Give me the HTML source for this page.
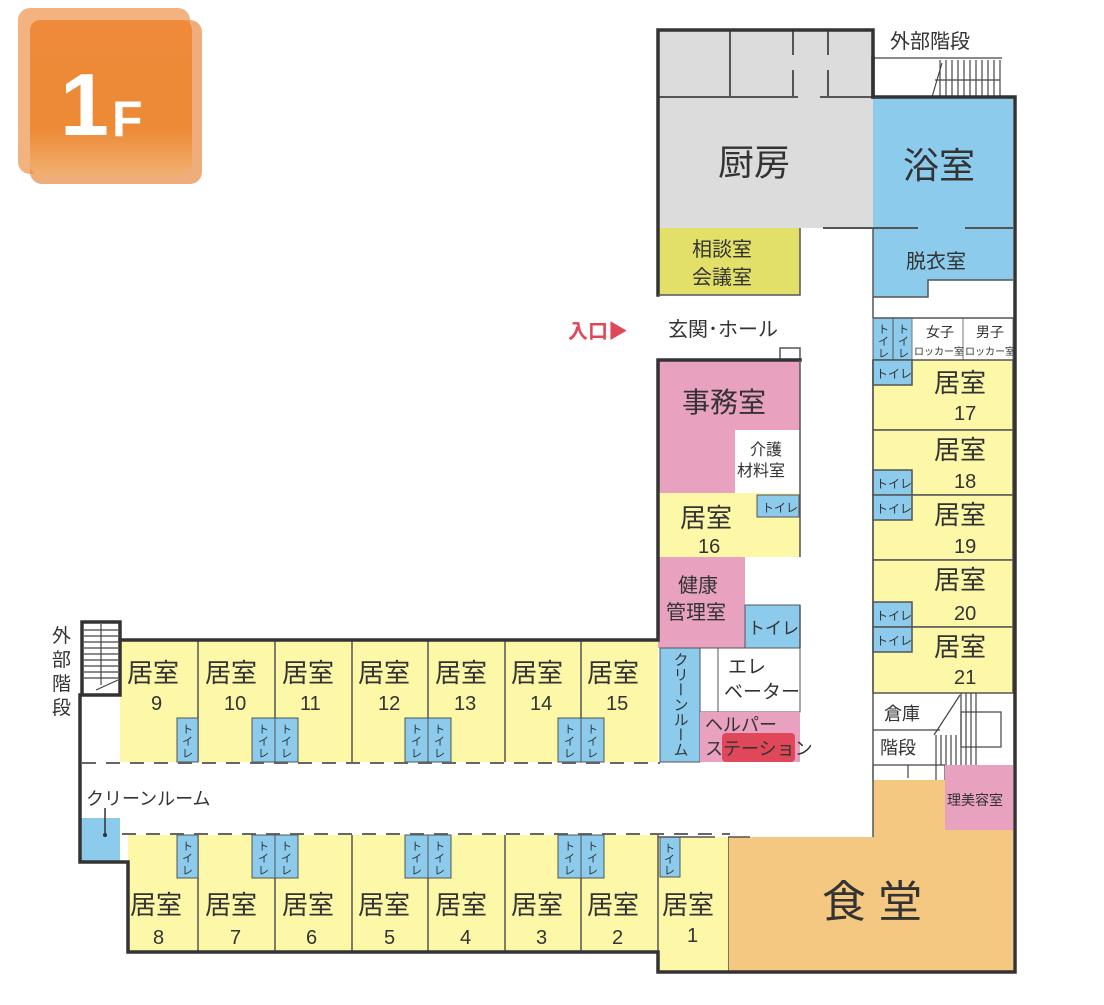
<!DOCTYPE html>
<html><head><meta charset="utf-8"><style>
body{margin:0;background:#fff;width:1104px;height:1000px;overflow:hidden}
svg text{font-family:"Liberation Sans","Noto Sans CJK JP",sans-serif;fill:#333}
</style></head><body>
<svg width="1104" height="1000" viewBox="0 0 1104 1000" xmlns="http://www.w3.org/2000/svg">
<defs><linearGradient id="og" x1="0" y1="0" x2="0" y2="1"><stop offset="0" stop-color="#ee8a3a"/><stop offset="0.7" stop-color="#ec8a36"/><stop offset="1" stop-color="#f2b070"/></linearGradient></defs>
<!-- badge -->
<rect x="18" y="8" width="172" height="166" rx="12" fill="#f0a060" opacity="0.8"/>
<rect x="30" y="20" width="172" height="164" rx="12" fill="#e98a45" opacity="0.7"/>
<rect x="30" y="20" width="162" height="155" rx="10" fill="url(#og)"/>
<text x="60" y="135" style="font-size:88px;font-weight:bold;fill:#fff">1</text>
<text x="112" y="136" style="font-size:50px;font-weight:bold;fill:#fff">F</text>

<!-- kitchen -->
<rect x="658" y="30" width="215" height="198" fill="#dcdcdc"/>
<g stroke="#555" stroke-width="2">
<line x1="658" y1="97" x2="798" y2="97"/><line x1="820" y1="97" x2="873" y2="97"/>
<line x1="730" y1="30" x2="730" y2="97"/><line x1="793" y1="30" x2="793" y2="55"/><line x1="793" y1="70" x2="793" y2="97"/>
<line x1="828" y1="30" x2="828" y2="55"/><line x1="828" y1="70" x2="828" y2="97"/>
</g>
<text x="718" y="175" style="font-size:36px">厨房</text>
<!-- bath -->
<rect x="873" y="97" width="140" height="131" fill="#8ccbec"/>
<path d="M873 228 H1013 V280 H928 V297 H873 Z" fill="#8ccbec"/>
<g stroke="#555" stroke-width="2"><line x1="873" y1="228" x2="918" y2="228"/><line x1="965" y1="228" x2="1013" y2="228"/><line x1="823" y1="228" x2="873" y2="228"/></g>
<text x="903" y="178" style="font-size:36px">浴室</text>
<text x="906" y="268" style="font-size:20px">脱衣室</text>
<!-- ext stair top -->
<text x="890" y="48" style="font-size:20px">外部階段</text>
<g stroke="#444" stroke-width="1.2">
<line x1="873" y1="58" x2="1002" y2="58"/>
<line x1="940" y1="60" x2="940" y2="97"/><line x1="946" y1="60" x2="946" y2="97"/><line x1="952" y1="60" x2="952" y2="97"/><line x1="958" y1="60" x2="958" y2="97"/><line x1="964" y1="60" x2="964" y2="97"/><line x1="970" y1="60" x2="970" y2="97"/><line x1="976" y1="60" x2="976" y2="97"/><line x1="982" y1="60" x2="982" y2="97"/><line x1="988" y1="60" x2="988" y2="97"/><line x1="994" y1="60" x2="994" y2="97"/><line x1="1000" y1="60" x2="1000" y2="97"/>
<line x1="935" y1="80" x2="1000" y2="80"/><line x1="932" y1="97" x2="942" y2="63"/>
</g>
<!-- 相談室 -->
<rect x="658" y="228" width="142" height="67" fill="#e3e06a"/>
<text x="692" y="256" style="font-size:20px">相談室</text>
<text x="692" y="284" style="font-size:20px">会議室</text>
<!-- entrance -->
<text x="568" y="338" style="font-size:20px;font-weight:bold;fill:#e0485a">入口▶</text>
<text x="668" y="336" style="font-size:20px">玄関･ホール</text>
<rect x="780" y="348" width="20" height="12" fill="#fff" stroke="#555" stroke-width="1.5"/>
<!-- 事務室 -->
<rect x="658" y="360" width="142" height="133" fill="#e8a2c0"/>
<rect x="735" y="430" width="65" height="63" fill="#fff"/>
<text x="682" y="412" style="font-size:28px">事務室</text>
<text x="750" y="455" style="font-size:16px">介護</text>
<text x="737" y="476" style="font-size:16px">材料室</text>
<!-- 16 -->
<rect x="658" y="493" width="142" height="64" fill="#fdf7a8"/>
<rect x="757" y="495" width="42" height="22" fill="#8ccbec" stroke="#555"/>
<text x="762" y="512" style="font-size:12px">トイレ</text>
<text x="680" y="527" style="font-size:26px">居室</text>
<text x="698" y="553" style="font-size:20px">16</text>
<!-- 健康 -->
<rect x="658" y="557" width="87" height="91" fill="#e8a2c0"/>
<rect x="745" y="605" width="55" height="43" fill="#8ccbec" stroke="#555"/>
<text x="678" y="592" style="font-size:20px">健康</text>
<text x="666" y="619" style="font-size:20px">管理室</text>
<text x="748" y="634" style="font-size:17px">トイレ</text>
<!-- cleanroom vertical -->
<rect x="660" y="648" width="40" height="114" fill="#8ccbec" stroke="#555"/>
<text x="680" y="652" style="font-size:15px;writing-mode:vertical-rl">クリーンルーム</text>
<rect x="700" y="648" width="18" height="64" fill="#fff" stroke="#555"/>
<rect x="718" y="648" width="82" height="64" fill="#fff" stroke="#555"/>
<text x="728" y="673" style="font-size:19px">エレ</text>
<text x="724" y="698" style="font-size:19px">ベーター</text>
<rect x="700" y="712" width="100" height="50" fill="#e8a2c0"/>
<rect x="722" y="733" width="73" height="29" rx="4" fill="#e0485a"/>
<text x="705" y="731" style="font-size:18px">ヘルパー</text>
<text x="705" y="755" style="font-size:18px">ステーション</text>

<!-- right column -->
<rect x="873" y="318" width="20" height="42" fill="#8ccbec" stroke="#555"/>
<rect x="893" y="318" width="19" height="42" fill="#8ccbec" stroke="#555"/>
<text x="878" y="333" style="font-size:11px">ト</text><text x="878" y="345" style="font-size:11px">イ</text><text x="878" y="357" style="font-size:11px">レ</text>
<text x="898" y="333" style="font-size:11px">ト</text><text x="898" y="345" style="font-size:11px">イ</text><text x="898" y="357" style="font-size:11px">レ</text>
<rect x="912" y="318" width="51" height="42" fill="#fff" stroke="#777"/>
<rect x="963" y="318" width="50" height="42" fill="#fff" stroke="#777"/>
<text x="926" y="337" style="font-size:14px">女子</text><text x="914" y="355" style="font-size:10px">ロッカー室</text>
<text x="976" y="337" style="font-size:14px">男子</text><text x="965" y="355" style="font-size:10px">ロッカー室</text>
<g stroke="#555" stroke-width="1.5">
<rect x="873" y="360" width="140" height="70" fill="#fdf7a8"/>
<rect x="873" y="430" width="140" height="65" fill="#fdf7a8"/>
<rect x="873" y="495" width="140" height="65" fill="#fdf7a8"/>
<rect x="873" y="560" width="140" height="67" fill="#fdf7a8"/>
<rect x="873" y="627" width="140" height="66" fill="#fdf7a8"/>
<rect x="873" y="360" width="39" height="25" fill="#8ccbec"/>
<rect x="873" y="470" width="39" height="25" fill="#8ccbec"/>
<rect x="873" y="495" width="39" height="25" fill="#8ccbec"/>
<rect x="873" y="602" width="39" height="25" fill="#8ccbec"/>
<rect x="873" y="627" width="39" height="25" fill="#8ccbec"/>
</g>
<g style="font-size:12px"><text x="876" y="378">トイレ</text><text x="876" y="488">トイレ</text><text x="876" y="513">トイレ</text><text x="876" y="620">トイレ</text><text x="876" y="645">トイレ</text></g>
<g style="font-size:26px"><text x="934" y="392">居室</text><text x="934" y="459">居室</text><text x="934" y="524">居室</text><text x="934" y="589">居室</text><text x="934" y="656">居室</text></g>
<g style="font-size:20px"><text x="954" y="420">17</text><text x="954" y="488">18</text><text x="954" y="553">19</text><text x="954" y="620">20</text><text x="954" y="684">21</text></g>
<!-- storage & stairs -->
<text x="884" y="720" style="font-size:18px">倉庫</text>
<text x="880" y="754" style="font-size:18px">階段</text>
<g stroke="#444" stroke-width="1.2" fill="none">
<line x1="873" y1="730" x2="940" y2="730"/>
<line x1="936" y1="735" x2="936" y2="765"/><line x1="941" y1="735" x2="941" y2="765"/><line x1="946" y1="735" x2="946" y2="765"/><line x1="951" y1="735" x2="951" y2="765"/><line x1="956" y1="735" x2="956" y2="765"/>
<line x1="961" y1="693" x2="961" y2="765"/><line x1="966" y1="693" x2="966" y2="765"/><line x1="971" y1="693" x2="971" y2="765"/><line x1="976" y1="693" x2="976" y2="765"/>
<rect x="961" y="712" width="40" height="35"/>
<line x1="934" y1="735" x2="960" y2="695"/>
<path d="M873 765 V780 M873 765 H945 M908 765 V778 M936 765 V780 M945 765 V780"/>
</g>
<!-- 理美容 -->
<rect x="945" y="765" width="68" height="65" fill="#e8a2c0"/>
<text x="947" y="805" style="font-size:14px">理美容室</text>
<!-- dining -->
<path d="M873 780 H945 V830 H1013 V972 H728 V837 H873 Z" fill="#f5c881"/>
<line x1="728" y1="837" x2="728" y2="972" stroke="#555" stroke-width="1.5"/>
<line x1="728" y1="837" x2="750" y2="837" stroke="#555" stroke-width="1.5"/>
<text x="822" y="917" style="font-size:44px">食 堂</text>
<!-- room 1 -->
<rect x="658" y="837" width="70" height="135" fill="#fdf7a8"/>
<rect x="660" y="837" width="20" height="40" fill="#8ccbec" stroke="#555"/>
<text x="664" y="852" style="font-size:11px">ト</text><text x="664" y="863" style="font-size:11px">イ</text><text x="664" y="874" style="font-size:11px">レ</text>
<text x="662" y="914" style="font-size:26px">居室</text>
<text x="687" y="942" style="font-size:20px">1</text>
<line x1="645" y1="837" x2="715" y2="837" stroke="#555" stroke-width="1.5"/>

<!-- west wing -->
<rect x="120" y="640" width="538" height="122" fill="#fdf7a8"/>
<rect x="128" y="835" width="530" height="117" fill="#fdf7a8"/>
<g stroke="#555" stroke-width="1.5">
<line x1="198" y1="640" x2="198" y2="762"/><line x1="275" y1="640" x2="275" y2="762"/><line x1="352" y1="640" x2="352" y2="762"/><line x1="428" y1="640" x2="428" y2="762"/><line x1="505" y1="640" x2="505" y2="762"/><line x1="581" y1="640" x2="581" y2="762"/>
<line x1="198" y1="835" x2="198" y2="952"/><line x1="275" y1="835" x2="275" y2="952"/><line x1="352" y1="835" x2="352" y2="952"/><line x1="428" y1="835" x2="428" y2="952"/><line x1="505" y1="835" x2="505" y2="952"/><line x1="581" y1="835" x2="581" y2="952"/><line x1="658" y1="835" x2="658" y2="972"/>
</g>
<g stroke="#666" stroke-width="2" stroke-dasharray="14 10">
<line x1="82" y1="763" x2="660" y2="763"/><line x1="122" y1="834" x2="730" y2="834"/>
</g>
<g fill="#8ccbec" stroke="#555">
<rect x="177" y="718" width="21" height="44"/><rect x="252" y="718" width="23" height="44"/><rect x="275" y="718" width="23" height="44"/>
<rect x="405" y="718" width="23" height="44"/><rect x="428" y="718" width="23" height="44"/><rect x="558" y="718" width="23" height="44"/><rect x="581" y="718" width="23" height="44"/>
<rect x="177" y="835" width="21" height="43"/><rect x="252" y="835" width="23" height="43"/><rect x="275" y="835" width="23" height="43"/>
<rect x="405" y="835" width="23" height="43"/><rect x="428" y="835" width="23" height="43"/><rect x="558" y="835" width="23" height="43"/><rect x="581" y="835" width="23" height="43"/>
</g>
<g style="font-size:11px">
<text x="182" y="733">ト</text><text x="182" y="745">イ</text><text x="182" y="757">レ</text>
<text x="258" y="733">ト</text><text x="258" y="745">イ</text><text x="258" y="757">レ</text>
<text x="281" y="733">ト</text><text x="281" y="745">イ</text><text x="281" y="757">レ</text>
<text x="411" y="733">ト</text><text x="411" y="745">イ</text><text x="411" y="757">レ</text>
<text x="434" y="733">ト</text><text x="434" y="745">イ</text><text x="434" y="757">レ</text>
<text x="564" y="733">ト</text><text x="564" y="745">イ</text><text x="564" y="757">レ</text>
<text x="587" y="733">ト</text><text x="587" y="745">イ</text><text x="587" y="757">レ</text>
<text x="182" y="850">ト</text><text x="182" y="862">イ</text><text x="182" y="874">レ</text>
<text x="258" y="850">ト</text><text x="258" y="862">イ</text><text x="258" y="874">レ</text>
<text x="281" y="850">ト</text><text x="281" y="862">イ</text><text x="281" y="874">レ</text>
<text x="411" y="850">ト</text><text x="411" y="862">イ</text><text x="411" y="874">レ</text>
<text x="434" y="850">ト</text><text x="434" y="862">イ</text><text x="434" y="874">レ</text>
<text x="564" y="850">ト</text><text x="564" y="862">イ</text><text x="564" y="874">レ</text>
<text x="587" y="850">ト</text><text x="587" y="862">イ</text><text x="587" y="874">レ</text>
</g>
<g style="font-size:26px">
<text x="127" y="682">居室</text><text x="205" y="682">居室</text><text x="282" y="682">居室</text><text x="358" y="682">居室</text><text x="435" y="682">居室</text><text x="511" y="682">居室</text><text x="587" y="682">居室</text>
<text x="130" y="914">居室</text><text x="205" y="914">居室</text><text x="282" y="914">居室</text><text x="358" y="914">居室</text><text x="435" y="914">居室</text><text x="511" y="914">居室</text><text x="587" y="914">居室</text>
</g>
<g style="font-size:20px">
<text x="151" y="710">9</text><text x="224" y="710">10</text><text x="300" y="710">11</text><text x="378" y="710">12</text><text x="454" y="710">13</text><text x="530" y="710">14</text><text x="606" y="710">15</text>
<text x="153" y="944">8</text><text x="230" y="944">7</text><text x="306" y="944">6</text><text x="384" y="944">5</text><text x="460" y="944">4</text><text x="536" y="944">3</text><text x="612" y="944">2</text>
</g>
<text x="86" y="805" style="font-size:18px">クリーンルーム</text>
<rect x="80" y="818" width="40" height="44" fill="#8ccbec"/>
<line x1="105" y1="808" x2="105" y2="835" stroke="#333" stroke-width="1.5"/><circle cx="105" cy="835" r="2" fill="#333"/>
<!-- west ext stair -->
<g stroke="#444" stroke-width="1.2">
<line x1="84" y1="630" x2="118" y2="630"/><line x1="84" y1="636" x2="118" y2="636"/><line x1="84" y1="642" x2="118" y2="642"/><line x1="84" y1="648" x2="118" y2="648"/><line x1="84" y1="654" x2="118" y2="654"/><line x1="84" y1="660" x2="118" y2="660"/><line x1="84" y1="666" x2="118" y2="666"/><line x1="84" y1="672" x2="118" y2="672"/><line x1="84" y1="678" x2="118" y2="678"/>
<line x1="101" y1="624" x2="101" y2="685"/><line x1="96" y1="690" x2="118" y2="680"/>
</g>
<text x="52" y="642" style="font-size:19px">外</text><text x="52" y="666" style="font-size:19px">部</text><text x="52" y="690" style="font-size:19px">階</text><text x="52" y="714" style="font-size:19px">段</text>

<!-- thick walls -->
<g stroke="#333" stroke-width="3.5" fill="none" stroke-linecap="square">
<path d="M658 295 V30 H873 V97"/>
<path d="M873 58 V97 H1015 V972 H658 V952 H128 V862 H80 V695"/>
<path d="M82 695 V622 H120 V695 H82"/>
<path d="M120 640 H658 V360 H800"/>
</g>
<g stroke="#555" stroke-width="1.5" fill="none">
<path d="M658 295 H800 V228 M800 360 V557 M800 605 V648"/>
<path d="M873 228 V318 M873 360 V837"/>
<path d="M873 297 H928 V280 H1013"/>
<path d="M873 318 H1013"/>
</g>
</svg>
</body></html>
